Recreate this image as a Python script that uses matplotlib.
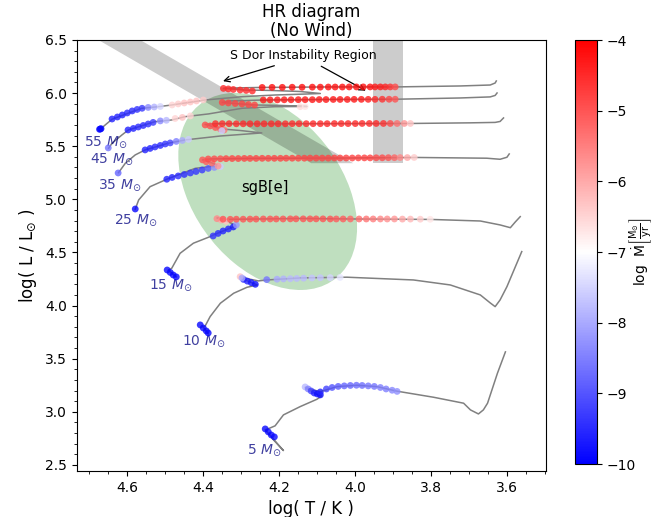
import matplotlib
matplotlib.use("Agg")
import matplotlib.pyplot as plt
from matplotlib.patches import Ellipse, Polygon
from matplotlib.colors import Normalize
from matplotlib.cm import ScalarMappable
from matplotlib.ticker import MultipleLocator

# ---- tracks (log T, log L) -----------------------------------------------
m5_T = [4.217, 4.188, 4.236, 4.225, 4.210, 4.188, 4.144, 4.100, 4.087, 4.100, 4.131, 4.115, 4.091,
        4.047, 3.995, 3.942, 3.889, 3.793, 3.714, 3.696, 3.675, 3.662, 3.651, 3.625, 3.604]
m5_L = [2.747, 2.635, 2.830, 2.845, 2.868, 2.971, 3.049, 3.118, 3.150, 3.165, 3.231, 3.210, 3.190,
        3.237, 3.250, 3.237, 3.194, 3.137, 3.081, 3.018, 2.980, 3.018, 3.081, 3.363, 3.564]

m10_T = [4.386, 4.399, 4.394, 4.381, 4.354, 4.319, 4.284, 4.257, 4.273, 4.291, 4.302, 4.280, 4.254,
         4.232, 4.144, 4.021, 3.846, 3.749, 3.670, 3.644, 3.631, 3.618, 3.600, 3.587, 3.561]
m10_L = [3.733, 3.799, 3.808, 3.896, 4.022, 4.116, 4.172, 4.194, 4.218, 4.246, 4.272, 4.251, 4.232,
         4.241, 4.260, 4.267, 4.241, 4.194, 4.100, 4.025, 3.990, 4.053, 4.178, 4.288, 4.508]

m15_T = [4.470, 4.491, 4.482, 4.460, 4.425, 4.381, 4.372, 4.319, 4.315, 4.333, 4.363, 4.341, 4.249,
         4.144, 4.004, 3.802, 3.670, 3.618, 3.591, 3.578, 3.565]
m15_L = [4.270, 4.335, 4.351, 4.492, 4.587, 4.649, 4.665, 4.743, 4.759, 4.787, 4.825, 4.811, 4.815,
         4.820, 4.815, 4.811, 4.796, 4.759, 4.733, 4.787, 4.837]

m25_T = [4.578, 4.569, 4.539, 4.495, 4.420, 4.381, 4.354, 4.376, 4.401, 4.381, 4.275, 4.144, 4.012,
         3.837, 3.653, 3.618, 3.600, 3.594]
m25_L = [4.907, 4.994, 5.119, 5.189, 5.292, 5.308, 5.308, 5.342, 5.371, 5.380, 5.385, 5.387, 5.389,
         5.394, 5.387, 5.377, 5.396, 5.427]

m35_T = [4.622, 4.604, 4.578, 4.552, 4.491, 4.447, 4.354, 4.245, 4.302, 4.349, 4.394, 4.367, 4.249,
         4.091, 3.854, 3.696, 3.631, 3.618, 3.609]
m35_L = [5.251, 5.340, 5.418, 5.465, 5.528, 5.559, 5.596, 5.625, 5.648, 5.662, 5.705, 5.712, 5.711,
         5.712, 5.714, 5.720, 5.724, 5.733, 5.766]

m45_T = [4.648, 4.639, 4.613, 4.596, 4.526, 4.482, 4.447, 4.385, 4.297, 4.210, 4.126, 4.196, 4.262,
         4.315, 4.349, 4.328, 4.241, 4.065, 3.894, 3.723, 3.644, 3.631, 3.626]
m45_L = [5.481, 5.528, 5.606, 5.653, 5.731, 5.747, 5.778, 5.804, 5.857, 5.872, 5.874, 5.884, 5.888,
         5.902, 5.912, 5.926, 5.935, 5.940, 5.942, 5.954, 5.964, 5.978, 6.001]

m55_T = [4.670, 4.657, 4.639, 4.561, 4.517, 4.482, 4.394, 4.297, 4.210, 4.122, 4.091, 4.144, 4.223,
         4.289, 4.346, 4.323, 4.249, 4.065, 3.894, 3.723, 3.644, 3.631, 3.628]
m55_L = [5.660, 5.700, 5.754, 5.857, 5.872, 5.888, 5.935, 5.966, 5.982, 5.992, 5.996, 6.015, 6.025,
         6.029, 6.044, 6.048, 6.053, 6.058, 6.058, 6.067, 6.076, 6.095, 6.114]

# ---- sampled models with mass-loss rate (log T, log L, log Mdot) ---------
d5_T = [4.236, 4.228, 4.220, 4.212, 4.131, 4.123, 4.115, 4.107, 4.099, 4.091,
        4.091, 4.075, 4.060, 4.044, 4.028, 4.012, 3.996, 3.981, 3.965, 3.949, 3.933, 3.918, 3.902, 3.889]
d5_L = [2.839, 2.811, 2.782, 2.764, 3.234, 3.215, 3.196, 3.177, 3.168, 3.159,
        3.187, 3.215, 3.229, 3.239, 3.244, 3.248, 3.250, 3.248, 3.244, 3.239, 3.229, 3.215, 3.203, 3.192]
d5_M = [-9.9, -9.9, -9.9, -9.9, -7.8, -8.5, -9.2, -9.6, -9.8, -9.8,
        -9.6, -9.2, -9.0, -8.9, -8.8, -8.8, -8.7, -8.7, -8.6, -8.6, -8.5, -8.5, -8.4, -8.3]

d10_T = [4.407, 4.399, 4.391, 4.386, 4.293, 4.283, 4.273, 4.262, 4.302, 4.297,
         4.232, 4.205, 4.188, 4.170, 4.153, 4.135, 4.113, 4.091, 4.065, 4.039]
d10_L = [3.818, 3.789, 3.761, 3.742, 4.246, 4.230, 4.216, 4.200, 4.272, 4.260,
         4.244, 4.248, 4.251, 4.253, 4.255, 4.258, 4.260, 4.262, 4.263, 4.265]
d10_M = [-9.9, -9.9, -9.9, -9.9, -9.5, -9.6, -9.7, -9.8, -6.3, -8.0,
         -8.6, -8.0, -7.9, -7.8, -7.8, -7.8, -7.7, -7.7, -7.5, -7.3]

d15_T = [4.494, 4.486, 4.478, 4.470, 4.373, 4.360, 4.347, 4.333, 4.320, 4.312, 4.352, 4.339,
         4.363, 4.347, 4.328, 4.312, 4.294, 4.276, 4.260, 4.241, 4.223, 4.207, 4.189, 4.170, 4.155,
         4.136, 4.118, 4.102, 4.084, 4.065, 4.049, 4.031, 4.012, 3.989, 3.970, 3.952, 3.933, 3.915,
         3.896, 3.875, 3.854, 3.828, 3.802]
d15_L = [4.335, 4.312, 4.288, 4.270, 4.655, 4.679, 4.702, 4.721, 4.740, 4.759, 4.805, 4.793,
         4.818, 4.813, 4.812, 4.813, 4.813, 4.814, 4.814, 4.815, 4.815, 4.815, 4.815, 4.816, 4.816,
         4.816, 4.816, 4.816, 4.816, 4.815, 4.815, 4.815, 4.815, 4.815, 4.815, 4.815, 4.815, 4.815,
         4.815, 4.814, 4.814, 4.813, 4.812]
d15_M = [-9.9, -9.9, -9.9, -9.9, -9.4, -9.5, -9.6, -9.6, -9.7, -8.2, -6.0, -6.3,
         -5.6, -5.0, -5.0, -5.0, -5.0, -5.0, -5.0, -5.0, -5.0, -5.0, -5.0, -5.0, -5.0,
         -5.0, -5.0, -5.0, -5.0, -5.0, -5.1, -5.1, -5.2, -5.3, -5.4, -5.5, -5.6, -5.7,
         -5.8, -6.0, -6.2, -6.4, -6.7]

d25_T = [4.578, 4.495, 4.481, 4.465, 4.449, 4.433, 4.418, 4.402, 4.386, 4.370, 4.354,
         4.401, 4.391, 4.376, 4.360,
         4.386, 4.370, 4.354, 4.339, 4.323, 4.307, 4.291, 4.276, 4.260, 4.244, 4.228, 4.212,
         4.196, 4.181, 4.165, 4.149, 4.133, 4.118, 4.102, 4.086, 4.070, 4.054, 4.039, 4.023,
         4.007, 3.991, 3.975, 3.960, 3.944, 3.928, 3.912, 3.896, 3.881, 3.862, 3.844]
d25_L = [4.909, 5.189, 5.206, 5.220, 5.234, 5.248, 5.262, 5.276, 5.291, 5.300, 5.308,
         5.371, 5.353, 5.342, 5.314,
         5.380, 5.381, 5.382, 5.383, 5.384, 5.384, 5.385, 5.385, 5.385, 5.386, 5.386, 5.386,
         5.386, 5.387, 5.387, 5.387, 5.387, 5.388, 5.388, 5.388, 5.388, 5.389, 5.389, 5.389,
         5.389, 5.390, 5.390, 5.390, 5.391, 5.391, 5.392, 5.392, 5.393, 5.393, 5.394]
d25_M = [-9.9, -9.6, -9.6, -9.5, -9.5, -9.4, -9.4, -9.3, -9.0, -8.3, -7.6,
         -5.0, -5.1, -5.2, -5.8,
         -4.9, -4.9, -4.9, -4.8, -4.8, -4.8, -4.8, -4.8, -4.8, -4.8, -4.8, -4.8,
         -4.8, -4.8, -4.8, -4.8, -4.8, -4.8, -4.8, -4.8, -4.8, -4.8, -4.8, -4.8,
         -4.8, -4.8, -4.8, -4.8, -4.9, -4.9, -5.0, -5.2, -5.6, -6.0, -6.4]

d35_T = [4.623, 4.552, 4.539, 4.526, 4.512, 4.499, 4.486, 4.470, 4.454, 4.438,
         4.394, 4.381, 4.367, 4.354, 4.344, 4.350,
         4.367, 4.349, 4.331, 4.312, 4.294, 4.276, 4.257, 4.239, 4.220, 4.202, 4.183, 4.165,
         4.147, 4.128, 4.110, 4.091, 4.073, 4.054, 4.036, 4.018, 3.999, 3.981, 3.962, 3.944,
         3.925, 3.907, 3.889, 3.870, 3.854]
d35_L = [5.248, 5.465, 5.479, 5.493, 5.507, 5.521, 5.531, 5.545, 5.554, 5.564,
         5.700, 5.691, 5.676, 5.662, 5.653, 5.645,
         5.712, 5.712, 5.712, 5.711, 5.711, 5.711, 5.711, 5.711, 5.711, 5.711, 5.711, 5.712,
         5.712, 5.712, 5.712, 5.712, 5.712, 5.713, 5.713, 5.713, 5.713, 5.714, 5.714, 5.714,
         5.714, 5.714, 5.714, 5.714, 5.714]
d35_M = [-8.8, -9.6, -9.6, -9.5, -9.5, -9.4, -9.2, -8.5, -8.0, -7.6,
         -4.9, -4.9, -5.0, -5.1, -5.4, -7.6,
         -4.5, -4.5, -4.5, -4.5, -4.5, -4.5, -4.5, -4.5, -4.5, -4.5, -4.5, -4.5,
         -4.5, -4.5, -4.5, -4.5, -4.5, -4.5, -4.5, -4.5, -4.5, -4.5, -4.5, -4.5,
         -4.6, -4.9, -5.3, -5.8, -6.3]

d45_T = [4.649, 4.597, 4.583, 4.570, 4.557, 4.544, 4.531, 4.512, 4.496,
         4.473, 4.454, 4.433, 4.144, 4.131,
         4.349, 4.333, 4.315, 4.297, 4.280, 4.264,
         4.241, 4.223, 4.204, 4.186, 4.168, 4.149, 4.131, 4.112, 4.094, 4.076, 4.057, 4.039,
         4.020, 4.002, 3.983, 3.965, 3.947, 3.928, 3.910, 3.894]
d45_L = [5.484, 5.653, 5.667, 5.681, 5.695, 5.709, 5.724, 5.738, 5.744,
         5.761, 5.771, 5.785, 5.872, 5.873,
         5.912, 5.907, 5.902, 5.898, 5.893, 5.888,
         5.935, 5.936, 5.936, 5.937, 5.937, 5.938, 5.938, 5.938, 5.939, 5.939, 5.940, 5.940,
         5.940, 5.941, 5.941, 5.941, 5.941, 5.942, 5.942, 5.942]
d45_M = [-8.6, -9.6, -9.6, -9.5, -9.5, -9.4, -9.3, -8.4, -7.8,
         -6.5, -6.3, -6.5, -6.6, -6.7,
         -4.8, -4.8, -4.8, -4.8, -4.8, -4.8,
         -4.3, -4.3, -4.3, -4.3, -4.3, -4.3, -4.3, -4.3, -4.3, -4.3, -4.3, -4.3,
         -4.3, -4.3, -4.3, -4.4, -4.5, -4.6, -4.8, -5.0]

d55_T = [4.672, 4.670, 4.668, 4.639, 4.625, 4.612, 4.599, 4.586, 4.573, 4.560, 4.544, 4.528, 4.512,
         4.481, 4.465, 4.449, 4.433, 4.417, 4.399,
         4.346, 4.333, 4.320, 4.302, 4.286, 4.270,
         4.244, 4.218, 4.191, 4.165, 4.139, 4.112, 4.091, 4.070, 4.052, 4.033, 4.015, 3.996,
         3.978, 3.960, 3.947, 3.933, 3.920, 3.907, 3.894]
d55_L = [5.659, 5.662, 5.665, 5.756, 5.775, 5.794, 5.813, 5.832, 5.846, 5.857, 5.865, 5.869, 5.874,
         5.888, 5.898, 5.907, 5.916, 5.926, 5.935,
         6.044, 6.039, 6.034, 6.029, 6.025, 6.020,
         6.053, 6.054, 6.054, 6.055, 6.055, 6.056, 6.056, 6.057, 6.057, 6.057, 6.058, 6.058,
         6.058, 6.058, 6.058, 6.058, 6.058, 6.058, 6.058]
d55_M = [-9.9, -9.9, -9.9, -9.6, -9.6, -9.6, -9.5, -9.5, -9.4, -9.3, -8.4, -7.9, -7.5,
         -6.5, -6.4, -6.3, -6.3, -6.3, -6.4,
         -4.5, -4.5, -4.5, -4.5, -4.5, -4.5,
         -4.2, -4.2, -4.2, -4.2, -4.2, -4.2, -4.2, -4.2, -4.2, -4.2, -4.2, -4.2,
         -4.2, -4.2, -4.3, -4.3, -4.4, -4.6, -4.9]

# labels
lab_T = [4.657, 4.641, 4.618, 4.576, 4.486, 4.399, 4.239]
lab_L = [5.54, 5.38, 5.135, 4.806, 4.194, 3.667, 2.64]
lab_txt = ["55", "45", "35", "25", "15", "10", "5"]

# S Dor strips and sgB[e] region
sdor_diag_T = [4.675, 4.565, 4.0045, 4.115]
sdor_diag_L = [6.5, 6.5, 5.34, 5.34]
sdor_hot_T = [3.953, 3.874]
sdor_hot_L = [5.34, 6.6]
sgb_center = (4.2295, 5.074)

fig = plt.figure(figsize=(6.54, 5.17), dpi=100)
ax = fig.add_axes([0.1173, 0.089, 0.7171, 0.8337])

ax.add_patch(Ellipse(sgb_center, 1.863, 0.436, angle=84.4, color="green", alpha=0.25, lw=0, zorder=1))
ax.add_patch(Polygon(list(zip(sdor_diag_T, sdor_diag_L)), closed=True, color="k", alpha=0.2, lw=0, zorder=2))
ax.fill_betweenx(sdor_hot_L, sdor_hot_T[0], sdor_hot_T[1], color="k", alpha=0.2, lw=0, zorder=2)

tracks = [(m5_T, m5_L), (m10_T, m10_L), (m15_T, m15_L), (m25_T, m25_L),
          (m35_T, m35_L), (m45_T, m45_L), (m55_T, m55_L)]
for tt, ll in tracks:
    ax.plot(tt, ll, color="0.5", lw=1.1, zorder=3)

dots = [(d5_T, d5_L, d5_M), (d10_T, d10_L, d10_M), (d15_T, d15_L, d15_M), (d25_T, d25_L, d25_M),
        (d35_T, d35_L, d35_M), (d45_T, d45_L, d45_M), (d55_T, d55_L, d55_M)]
for tt, ll, mm in dots:
    ax.scatter(tt, ll, c=mm, cmap="bwr", vmin=-10, vmax=-4, s=24, alpha=0.8,
               edgecolors="none", zorder=4)

for t, l, txt in zip(lab_T, lab_L, lab_txt):
    ax.text(t, l, txt + r" $M_{\odot}$", color="navy", alpha=0.75, fontsize=10,
            ha="center", va="center")

ax.text(4.236, 5.107, "sgB[e]", fontsize=10.5, ha="center", va="center")
ax.text(4.135, 6.35, "S Dor Instability Region", fontsize=9, ha="center", va="center")
ax.annotate("", xy=(4.354, 6.105), xytext=(4.205, 6.265),
            arrowprops=dict(arrowstyle="->", color="k", lw=0.9))
ax.annotate("", xy=(3.965, 6.01), xytext=(4.095, 6.265),
            arrowprops=dict(arrowstyle="->", color="k", lw=0.9))

ax.set_xlim(4.732, 3.498)
ax.set_ylim(2.443, 6.5)
ax.xaxis.set_major_locator(MultipleLocator(0.2))
ax.xaxis.set_minor_locator(MultipleLocator(0.05))
ax.yaxis.set_major_locator(MultipleLocator(0.5))
ax.yaxis.set_minor_locator(MultipleLocator(0.1))
ax.tick_params(labelsize=10)
ax.set_xlabel("log( T / K )", fontsize=12)
ax.set_ylabel(r"log( L / L$_{\odot}$ )", fontsize=12)
ax.set_title("HR diagram\n(No Wind)", fontsize=12, pad=3, linespacing=1.05)

cax = fig.add_axes([0.879, 0.1025, 0.034, 0.82])
sm = ScalarMappable(norm=Normalize(vmin=-10, vmax=-4), cmap="bwr")
cb = fig.colorbar(sm, cax=cax)
cb.set_ticks([-10, -9, -8, -7, -6, -5, -4])
cb.ax.tick_params(labelsize=10)
cb.set_label(r"log  $\dot{\mathrm{M}}\left[\frac{\mathrm{M_{\odot}}}{\mathrm{yr}}\right]$",
             fontsize=10, labelpad=-6.5)

fig.savefig("out.png", dpi=100)
